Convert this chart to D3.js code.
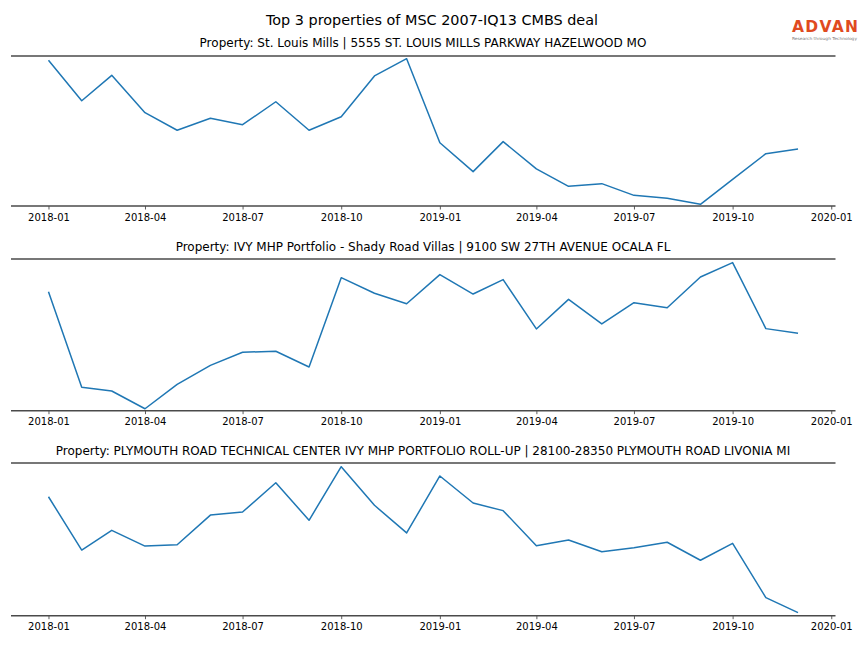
<!DOCTYPE html>
<html><head><meta charset="utf-8">
<script src="https://cdn.jsdelivr.net/npm/d3@7"></script>
<style>body{margin:0;background:#fff}svg{display:block}text{font-family:"DejaVu Sans",sans-serif}</style>
</head><body>
<script>
const months = ["2018-01","2018-02","2018-03","2018-04","2018-05","2018-06","2018-07","2018-08","2018-09","2018-10","2018-11","2018-12",
"2019-01","2019-02","2019-03","2019-04","2019-05","2019-06","2019-07","2019-08","2019-09","2019-10","2019-11","2019-12"];
const tickLabels = ["2018-01","2018-04","2018-07","2018-10","2019-01","2019-04","2019-07","2019-10","2020-01"];
const titles = [
 "Property: St. Louis Mills | 5555 ST. LOUIS MILLS PARKWAY HAZELWOOD MO",
 "Property: IVY MHP Portfolio - Shady Road Villas | 9100 SW 27TH AVENUE OCALA FL",
 "Property: PLYMOUTH ROAD TECHNICAL CENTER IVY MHP PORTFOLIO ROLL-UP | 28100-28350 PLYMOUTH ROAD LIVONIA MI"
];
const series1 = [97.1,70.2,87.1,62.2,50.5,58.5,54.2,69.5,50.5,59.5,86.7,98.2,42.2,22.9,42.9,24.7,13.1,14.9,7.1,5.1,1.1,17.7,34.9,38.0];
const series2 = [78.4,15.4,13.0,1.3,17.4,29.9,38.5,39.2,28.8,87.7,77.4,70.5,89.7,76.9,86.4,53.9,73.4,57.2,71.2,67.9,88.1,97.6,54.1,51.0];
const series3 = [77.9,43.0,55.9,45.6,46.5,65.9,67.9,87.1,62.5,97.6,72.3,54.2,91.5,73.8,68.8,45.8,49.6,41.9,44.5,48.1,36.3,47.4,11.8,2.0];
const allSeries = [series1, series2, series3];

const W = 864, H = 648;
const svg = d3.select("body").append("svg").attr("width", W).attr("height", H);
const parse = d3.timeParse("%Y-%m");
const dates = months.map(parse);
const ticks = tickLabels.map(parse);
const pad = (dates[dates.length-1] - dates[0]) * 0.05;
const x = d3.scaleTime()
  .domain([new Date(+dates[0] - pad), new Date(+dates[dates.length-1] + pad)])
  .range([11, 835.5]);

svg.append("text").attr("x", 432).attr("y", 24.5).attr("text-anchor","middle")
  .attr("font-size", 14.4).attr("fill","#000").text("Top 3 properties of MSC 2007-IQ13 CMBS deal");

// logo
const logo = svg.append("g");
logo.append("text").attr("x", 792).attr("y", 31.5)
  .attr("font-size", 15.5).attr("font-weight", 600).attr("font-family","Liberation Sans, Arial, sans-serif")
  .attr("fill","#e04a1f").attr("textLength", 66).attr("lengthAdjust","spacing").text("ADVAN");
logo.append("text").attr("x", 792).attr("y", 39.5)
  .attr("font-size", 4).attr("fill","#777").attr("textLength", 65).attr("lengthAdjust","spacingAndGlyphs")
  .text("Research through Technology");

const panels = [{top:56,bottom:206,ty:46.5},{top:259,bottom:410.7,ty:250.5},{top:463,bottom:615.7,ty:454.5}];

panels.forEach((p, i) => {
  const y = d3.scaleLinear().domain([0, 100]).range([p.bottom, p.top]);
  const g = svg.append("g");
  g.append("text").attr("x", 423).attr("y", p.ty).attr("text-anchor","middle")
    .attr("font-size", 12).attr("fill","#000").text(titles[i]);
  g.append("line").attr("x1", 11).attr("x2", 835.5).attr("y1", p.top).attr("y2", p.top)
    .attr("stroke","#4a4a4a").attr("stroke-width",1.6);
  const ax = d3.axisBottom(x).tickValues(ticks).tickFormat(d3.timeFormat("%Y-%m"))
    .tickSize(3.5).tickPadding(4);
  const axG = g.append("g").attr("transform", `translate(0,${p.bottom})`).call(ax);
  axG.select(".domain").remove();
  axG.selectAll(".tick line").attr("stroke","#333").attr("stroke-width",0.8);
  axG.selectAll(".tick text").attr("font-size", 10).attr("fill","#000")
    .attr("font-family","DejaVu Sans, sans-serif");
  g.append("line").attr("x1", 11).attr("x2", 835.5).attr("y1", p.bottom).attr("y2", p.bottom)
    .attr("stroke","#4a4a4a").attr("stroke-width",1.6);
  const line = d3.line().x((d, j) => x(dates[j])).y(d => y(d));
  g.append("path").datum(allSeries[i]).attr("d", line).attr("fill","none")
    .attr("stroke","#1f77b4").attr("stroke-width",1.5).attr("stroke-linejoin","round");
});
</script>
</body></html>
